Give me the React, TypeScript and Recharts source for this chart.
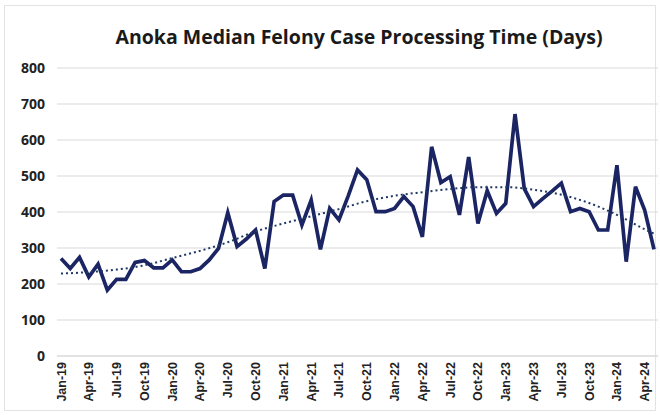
import { CartesianGrid, Line, LineChart, XAxis, YAxis } from "recharts";

const months = [
  "Jan-19", "Feb-19", "Mar-19", "Apr-19", "May-19", "Jun-19", "Jul-19", "Aug-19", "Sep-19", "Oct-19", "Nov-19", "Dec-19",
  "Jan-20", "Feb-20", "Mar-20", "Apr-20", "May-20", "Jun-20", "Jul-20", "Aug-20", "Sep-20", "Oct-20", "Nov-20", "Dec-20",
  "Jan-21", "Feb-21", "Mar-21", "Apr-21", "May-21", "Jun-21", "Jul-21", "Aug-21", "Sep-21", "Oct-21", "Nov-21", "Dec-21",
  "Jan-22", "Feb-22", "Mar-22", "Apr-22", "May-22", "Jun-22", "Jul-22", "Aug-22", "Sep-22", "Oct-22", "Nov-22", "Dec-22",
  "Jan-23", "Feb-23", "Mar-23", "Apr-23", "May-23", "Jun-23", "Jul-23", "Aug-23", "Sep-23", "Oct-23", "Nov-23", "Dec-23",
  "Jan-24", "Feb-24", "Mar-24", "Apr-24", "May-24",
];

const medianDays = [
  271, 243, 274, 220, 255, 183, 213, 213, 260, 265, 245, 245,
  267, 234, 234, 243, 267, 299, 398, 304, 325, 350, 243, 429,
  447, 447, 364, 433, 296, 410, 378, 445, 517, 490, 401, 401,
  410, 443, 415, 331, 581, 482, 498, 392, 553, 368, 459, 396,
  424, 672, 465, 415, 437, 458, 480, 401, 410, 401, 350, 350,
  530, 262, 470, 405, 296,
];

// dotted trend read at quarter months, library joins the gaps
const trend = [
  229, null, null, 233, null, null, 240, null, null, 252, null, null,
  272, null, null, 292, null, null, 316, null, null, 346, null, null,
  368, null, null, 388, null, null, 408, null, null, 430, null, null,
  445, null, null, 455, null, null, 464, null, null, 469, null, null,
  469, null, null, 462, null, null, 448, null, null, 425, null, null,
  392, null, null, 352, 340,
];

const yTicks = [0, 100, 200, 300, 400, 500, 600, 700, 800];

const data = months.map((m, i) => ({ month: m, days: medianDays[i], trend: trend[i] }));

const font = "'Liberation Sans', Arial, sans-serif";

function MonthTick({ x, y, payload }: any) {
  return (
    <g transform={`translate(${x},${y})`}>
      <text
        x={0}
        y={0}
        dy={4.5}
        textAnchor="end"
        transform="rotate(-90)"
        fontSize={12.5}
        fontWeight="bold"
        fontFamily={font}
        fill="#222"
      >
        {payload.value}
      </text>
    </g>
  );
}

export default function App() {
  return (
    <div style={{ position: "fixed", left: 0, top: 0, width: 660, height: 415, background: "#fff" }}>
      <div
        style={{
          position: "absolute",
          left: 4,
          top: 5,
          width: 652,
          height: 406,
          border: "1px solid #e3e3e3",
          boxSizing: "border-box",
        }}
      />
      <div
        style={{
          position: "absolute",
          left: 0,
          top: 23,
          width: 718,
          textAlign: "center",
          fontFamily: "'Open Sans', sans-serif",
          fontWeight: 700,
          fontSize: 19.5,
          color: "#1a1a1a",
        }}
      >
        Anoka Median Felony Case Processing Time (Days)
      </div>
      <div style={{ position: "absolute", left: 0, top: 0 }}>
        <LineChart width={660} height={415} data={data} margin={{ top: 68, right: 2, left: 0, bottom: 9 }}>
          <CartesianGrid vertical={false} stroke="#d9d9d9" strokeWidth={1} />
          <XAxis
            dataKey="month"
            interval={2}
            height={50}
            tickLine={false}
            axisLine={{ stroke: "#d9d9d9" }}
            tickSize={0}
            tickMargin={6}
            padding={{ left: 4, right: 4 }}
            tick={<MonthTick />}
          />
          <YAxis
            domain={[0, 800]}
            ticks={yTicks}
            width={57}
            tickLine={false}
            axisLine={false}
            tickSize={0}
            tickMargin={12}
            tick={{ fontSize: 14, fontWeight: "bold", fontFamily: "'Open Sans', sans-serif", fill: "#222" }}
          />
          <Line
            dataKey="days"
            type="linear"
            stroke="#1b2563"
            strokeWidth={3.7}
            dot={false}
            isAnimationActive={false}
          />
          <Line
            dataKey="trend"
            type="monotone"
            connectNulls
            stroke="#1f3864"
            strokeWidth={2}
            strokeDasharray="2 3"
            dot={false}
            isAnimationActive={false}
          />
        </LineChart>
      </div>
    </div>
  );
}
